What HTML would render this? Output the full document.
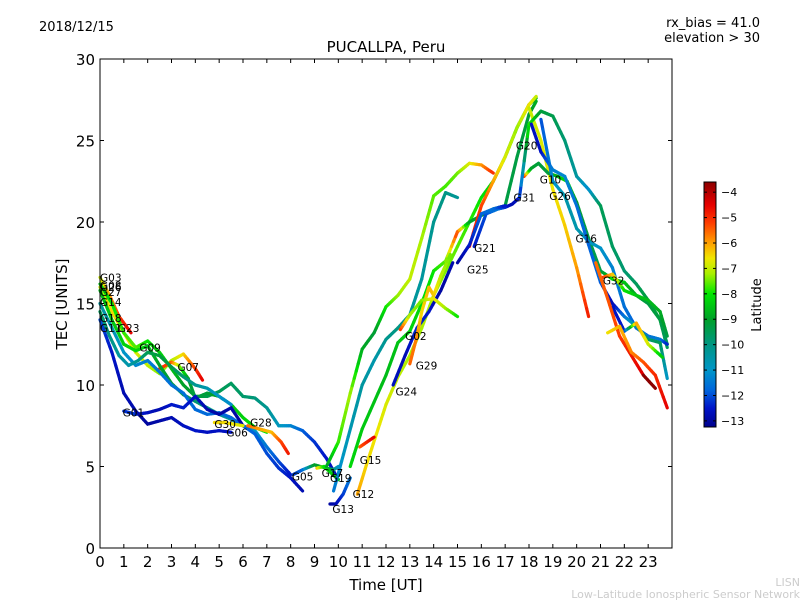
<!DOCTYPE html>
<html><head><meta charset="utf-8">
<style>
body{margin:0;background:#fff;}
svg{display:block;font-family:"DejaVu Sans","Liberation Sans",sans-serif;}
</style></head>
<body>
<svg id="chart" width="800" height="600" viewBox="0 0 800 600">
  <rect width="800" height="600" fill="#fff"/>
  <text x="39" y="31" font-size="13">2018/12/15</text>
  <text x="760" y="27" font-size="13" text-anchor="end">rx_bias = 41.0</text>
  <text x="760" y="42" font-size="13" text-anchor="end">elevation &gt; 30</text>
  <text x="386" y="52" font-size="15" text-anchor="middle">PUCALLPA, Peru</text>
  <g id="plot"></g>
  <g id="axes"></g>
  <g id="cbar"></g>
  <text x="386" y="590" font-size="15" text-anchor="middle">Time [UT]</text>
  <text transform="translate(67,304) rotate(-90)" font-size="15" text-anchor="middle">TEC [UNITS]</text>
  <text x="800" y="586" font-size="11" fill="#ccc" text-anchor="end">LISN</text>
  <text x="800" y="598" font-size="11" fill="#ccc" text-anchor="end">Low-Latitude Ionospheric Sensor Network</text>
</svg>
<script>
const xTicks=[0,1,2,3,4,5,6,7,8,9,10,11,12,13,14,15,16,17,18,19,20,21,22,23];
const yTicks=[0,5,10,15,20,25,30];
const cbTicks=[-4,-5,-6,-7,-8,-9,-10,-11,-12,-13];
// tracks: time (UT h), TEC, latitude
const trkNames=["G03","G23","G09","G07","G14","G18","G11","G01","G06","G30","G28","G05","G17","G13","G12","G15","R1","R2","G21","G20","G20d","G10","G31","G26","G16","G32","G25","G24","G29","G02","Gx1","Gx2","Gx3"];
const trkT=[
 [0,0.4,0.8,1.3],
 [0,0.5,1,1.5,2,2.5,3,3.5,4,4.3],
 [0,0.5,1,1.5,2,2.5,3,3.5,4,4.5,5,5.5,6,6.5,7,7.5,8,8.5,9,9.5,10],
 [2.5,3,3.3,3.7,4,4.5,5,5.5,6,6.5,7],
 [0,0.5,1,1.5,2,2.5,3,3.5,4,4.5,5,5.5,6,6.5,7,7.5,8],
 [0,0.5,1,1.5,2,2.5,3,3.5,4,4.5,5,5.5,6,6.5,7,7.5,8,8.5],
 [0,0.4,0.8,1.2,1.6,2,2.5,3,3.5,4,4.5,5,5.5],
 [1,1.5,2,2.5,3,3.5,4,4.5,5,5.5,6],
 [0,0.5,1,1.5,2,2.5,3,3.5,4,4.5,5,5.5],
 [4.8,5.2,5.6,6],
 [6.2,6.7,7.2,7.6,7.9],
 [8.1,8.5,9,9.5,9.8,10],
 [9.1,9.4,9.7,10],
 [9.65,9.9,10.2,10.5],
 [10.8,11.2,11.6,12,12.5,13,13.5,14,14.5,15,15.5,16,16.5,17,17.5,18,18.3],
 [10.9,11.2,11.5],
 [9.5,10,10.5,11,11.5,12,12.5,13,13.5,14,14.5,15,15.5,16,16.5],
 [9.8,10.3,11,11.5,12,12.5,13,13.5,14,14.5,15],
 [10.5,11,12,12.5,13,13.5,14,14.5,15,15.5,16,16.5,17,17.5,18,18.3],
 [15.5,16,16.5,17,17.5,18,18.3],
 [18,18.5,19,19.5,20,20.5],
 [17.8,18.1,18.4,18.8,19.2,19.6,20,20.5,21,21.5,22,22.5,23,23.5,23.8],
 [15.7,16.2,16.7,17,17.3,17.6,18,18.5,19,19.5,20,20.5,21,21.5,22,22.5,23,23.5,23.8],
 [18.5,19,19.5,20,20.5,21,21.5,22,22.5,23,23.5,23.8],
 [18.1,18.5,19,19.5,20,20.5,21,21.5,22,22.5,23,23.5,23.8],
 [21.1,21.5,22,22.5,23,23.5,23.8],
 [15,15.5,16,16.5,17],
 [12.3,12.8,13.3,13.8,14.3,14.8],
 [13,13.3,13.5,13.8,14,14.3,14.7],
 [12.6,13,13.5,14,14.5,15],
 [21.5,22,22.5,23,23.6],
 [20.8,21.3,21.8,22.3,22.8,23.3],
 [21.3,21.8,22.3,22.8,23.3,23.8]
];
const trkV=[
 [16.6,15.5,14.2,13.2],
 [16,14.5,13.2,12,11.2,10.7,11.5,11.9,11,10.3],
 [16.2,15,13.2,12.3,12.7,12,11,10,9.3,9.3,9.6,10.1,9.3,9.2,8.6,7.5,7.5,7.2,6.5,5.5,4.2],
 [11,11.4,11.2,10.4,9.2,9.5,9.3,8.8,8,7.4,7.1],
 [15.8,14,12.5,12.1,12.4,11.2,10.1,9.4,9,8.6,8.2,7.9,7.5,7.2,6.2,5.3,4.5],
 [15,13.5,12,11.2,11.5,10.8,10,9.5,8.5,8.2,8.3,8,7.5,7,5.8,4.9,4.3,3.5],
 [14.5,13,11.8,11.2,11.5,12,11.8,11.1,10.5,10,9.8,9.3,8.8],
 [8.4,8.2,8.3,8.5,8.8,8.6,9.3,8.5,8.2,8.6,7.5],
 [14,12,9.5,8.4,7.6,7.8,8.0,7.5,7.2,7.1,7.2,7.1],
 [7.7,7.7,7.6,7.5],
 [7.5,7.3,7.1,6.5,5.8],
 [4.5,4.8,5.1,4.9,4.8,5.0],
 [4.9,5.0,4.6,4.2],
 [2.7,2.7,3.3,4.3],
 [3.3,5.2,7,8.8,10.5,11.8,13.5,15.5,17,18.5,20,21.5,22.5,24,25.8,27.2,27.6],
 [6.2,6.5,6.8],
 [5,6.5,9.5,12.2,13.2,14.8,15.5,16.5,19,21.6,22.2,23,23.6,23.5,23],
 [3.5,6.2,10,11.5,12.8,13.5,14.3,16.5,20,21.8,21.5],
 [5,7.3,10.6,12.6,13.3,15,17,17.6,19.4,20,20.4,20.8,21,24,26.6,27.4],
 [18.5,21,22.5,24,25.8,27.2,27.7],
 [27,25,22,19.8,17.2,14.2],
 [22.8,23.3,23.6,23,22.8,22.5,21.2,19,17,16.5,16.3,15.5,15,14,12.3],
 [18.5,20.5,20.8,20.9,21.1,21.5,26,26.8,26.5,25,22.8,22,21,18.5,17,16.2,15.2,14,12.5],
 [26.3,22.5,21.6,19.6,18.8,18.4,17.2,14.8,13.5,13,12.8,12.5],
 [26,24.3,23.2,22.8,21,18.6,16.3,15,14.2,13.6,12.8,12.6,10.4],
 [16.6,16.8,15.8,15.5,15.2,14.5,13],
 [17.5,18.6,20.5,20.8,21],
 [10,11.8,13.5,14.5,15.8,17.5],
 [11.3,13,14.5,16,15.5,16.7,18],
 [13.4,14.3,15.2,15.3,14.7,14.2],
 [14.8,13.3,13.8,12.5,11.7],
 [17.5,15.3,13,11.8,10.6,9.8],
 [13.2,13.6,12,11.4,10.6,8.6]
];
const trkL=[
 [-7,-6,-5.2,-4.5],
 [-7,-6.5,-6.3,-6.8,-7,-7.4,-7.2,-6.5,-5.2,-4.5],
 [-8.5,-8,-7.8,-7.6,-8,-8.3,-8.5,-9,-9.2,-9.4,-9.5,-9.6,-9.7,-9.9,-10.2,-10.8,-11.2,-11.8,-12.2,-12.5,-12.8],
 [-5,-5.3,-7,-9,-9.3,-9.2,-8.8,-8.5,-8.3,-8.1,-8],
 [-8.6,-8.4,-8.3,-8.2,-8.5,-9,-9.3,-9.5,-9.8,-10,-10.2,-10.4,-10.7,-11,-11.5,-12,-12.5],
 [-10.4,-10.7,-11,-11.2,-11.4,-11.5,-11.6,-11.6,-11.7,-11.7,-11.7,-11.7,-11.8,-11.8,-12,-12.2,-12.5,-12.8],
 [-9.5,-10,-10.4,-10.6,-10.2,-9.5,-9.2,-9.4,-9.8,-10.2,-10.6,-11,-11.2],
 [-12.3,-12.2,-12.6,-12.8,-12.5,-12.4,-12.6,-12.8,-12.9,-12.9,-13],
 [-12,-12.5,-12.8,-12.8,-13,-12.9,-12.8,-12.6,-12.5,-12.6,-12.6,-12.6],
 [-6.5,-6.5,-6.6,-6.8],
 [-5.5,-6,-6.3,-5.3,-4.8],
 [-12.2,-11.8,-9,-9.2,-9.5,-11],
 [-6.2,-8,-8.3,-8.3],
 [-13,-12.8,-12.2,-11.5],
 [-6,-6.5,-6.6,-6.8,-7,-7.2,-7.2,-7.2,-7.4,-7.6,-7.8,-8,-8.3,-8.6,-8.8,-9,-8.5],
 [-5.5,-5,-4.5],
 [-9,-7.8,-7.2,-8.8,-9.2,-8,-7.3,-7,-7.2,-7.6,-7.7,-7.5,-6.8,-6,-5],
 [-11.5,-10.8,-10.4,-10.6,-10.2,-10,-10.3,-10.4,-10.2,-10,-10.3],
 [-8.2,-8.4,-8.6,-8.5,-8.3,-8.2,-8,-7.6,-5.2,-9,-9.2,-9.2,-9.3,-9.3,-9.2,-8.8],
 [-4.5,-5.2,-6,-6.8,-7.3,-6.5,-7],
 [-7,-6.8,-6.6,-6.4,-6,-4.8],
 [-4.8,-9,-9.2,-9.3,-8.6,-8.2,-9,-9.4,-9.4,-8.2,-8.4,-9,-9.3,-9.2,-9.6],
 [-12.5,-12,-11.5,-12.2,-12.8,-12.5,-7.8,-9.2,-9.4,-9.8,-10.4,-11.2,-9.5,-9.6,-9.8,-9.6,-9.2,-9.3,-9.6],
 [-12,-11.2,-10.6,-10.6,-10.8,-11,-11.3,-11.6,-11.8,-11.6,-11.4,-12.4],
 [-12.6,-12.6,-11.4,-11.2,-11.6,-11.8,-11.8,-12.8,-11.6,-10.4,-9.8,-9.5,-11],
 [-5,-6.2,-8,-8.4,-8.6,-8.8,-9.3],
 [-13,-12.5,-11.8,-11.6,-12.5],
 [-12.6,-12.8,-12.3,-12.5,-13,-12.8],
 [-5.5,-5.8,-6.5,-6.2,-6.3,-7,-7.5],
 [-5,-7.2,-7.5,-6.6,-7.2,-8],
 [-12.6,-12.4,-6,-6.8,-8.5],
 [-5.6,-5.4,-5.2,-4.8,-4.4],
 [-6.6,-6.2,-5.8,-5.4,-5,-4.5]
];
const lblNames=["G03","G08","G26","G27","G14","G18","G11","G23","G09","G07","G01","G30","G06","G28","G05","G17","G19","G13","G12","G15","G24","G29","G02","G25","G21","G20","G31","G10","G26","G16","G32"];
const lblT=[0,0,0,0,0,0,0,0.75,1.65,3.25,0.95,4.8,5.3,6.3,8.05,9.3,9.65,9.75,10.6,10.9,12.4,13.25,12.8,15.4,15.7,17.45,17.35,18.45,18.85,19.95,21.1];
const lblV=[16.6,16.1,16.0,15.7,15.1,14.1,13.5,13.5,12.3,11.1,8.3,7.6,7.1,7.7,4.4,4.6,4.3,2.4,3.3,5.4,9.6,11.2,13.0,17.1,18.4,24.7,21.5,22.6,21.6,19.0,16.4];

const X0=100,X1=672,Y0=548,Y1=59;
const xs=t=>X0+(t/24)*(X1-X0);
const ys=v=>Y0-(v/30)*(Y0-Y1);
const LMIN=-13.24,LMAX=-3.6;
const stops=[[-13.24,[0,0,140]],[-12.5,[0,20,200]],[-11.8,[0,100,220]],[-11,[0,150,200]],[-10,[0,150,130]],[-9,[0,160,40]],[-8,[0,230,0]],[-7.2,[170,240,0]],[-6.6,[240,230,0]],[-6,[255,160,0]],[-5.2,[255,60,0]],[-4.5,[230,0,0]],[-3.6,[140,0,0]]];
function cmap(l){
  l=Math.max(LMIN,Math.min(LMAX,l));
  for(let i=0;i<stops.length-1;i++){const a=stops[i],b=stops[i+1];
    if(l<=b[0]){const f=(l-a[0])/(b[0]-a[0]);const c=a[1].map((v,k)=>Math.round(v+(b[1][k]-v)*f));return `rgb(${c})`;}}
  return 'rgb(140,0,0)';
}
const NS="http://www.w3.org/2000/svg";
function mk(tag,attrs,parent){const e=document.createElementNS(NS,tag);for(const k in attrs)e.setAttribute(k,attrs[k]);parent.appendChild(e);return e;}
const plot=document.getElementById('plot');
trkT.forEach((ts,i)=>{
  const g=mk('g',{},plot);
  
  
  const vs=trkV[i],ls=trkL[i];
  for(let j=0;j<ts.length-1;j++){
    const n=6;
    for(let k=0;k<n;k++){
      const f0=k/n,f1=(k+1)/n;
      const t0=ts[j]+(ts[j+1]-ts[j])*f0,t1=ts[j]+(ts[j+1]-ts[j])*f1;
      const v0=vs[j]+(vs[j+1]-vs[j])*f0,v1=vs[j]+(vs[j+1]-vs[j])*f1;
      const lm=ls[j]+(ls[j+1]-ls[j])*(f0+f1)/2;
      const s=mk('line',{x1:xs(t0),y1:ys(v0),x2:xs(t1),y2:ys(v1),stroke:cmap(lm),'stroke-width':3.2,'stroke-linecap':'round'},g);
      
      
    }
  }
});
lblNames.forEach((n,i)=>{
  const t=mk('text',{x:xs(lblT[i]),y:ys(lblV[i])+4,'font-size':10.5},plot);
  
  
  t.textContent=n;
});
const axes=document.getElementById('axes');
const fr=mk('rect',{x:X0,y:Y1,width:X1-X0,height:Y0-Y1,fill:'none',stroke:'#000','stroke-width':1},axes);


xTicks.forEach(t=>{
  const x=xs(t);
  mk('line',{x1:x,y1:Y0,x2:x,y2:Y0-4,stroke:'#000'},axes);
  mk('line',{x1:x,y1:Y1,x2:x,y2:Y1+4,stroke:'#000'},axes);
  const tx=mk('text',{x:x,y:Y0+19,'font-size':15,'text-anchor':'middle'},axes);
  
  
  tx.textContent=t;
});
yTicks.forEach(v=>{
  const y=ys(v);
  mk('line',{x1:X0,y1:y,x2:X0+4,y2:y,stroke:'#000'},axes);
  mk('line',{x1:X1,y1:y,x2:X1-4,y2:y,stroke:'#000'},axes);
  const tx=mk('text',{x:X0-5,y:y+6,'font-size':15,'text-anchor':'end'},axes);
  
  
  tx.textContent=v;
});
// colorbar
const cb=document.getElementById('cbar');
const CX=704,CW=12,CT=182,CB=427;
const cy=l=>CB-(l-LMIN)/(LMAX-LMIN)*(CB-CT);
for(let y=CT;y<CB;y++){
  const l=LMIN+(CB-y-0.5)/(CB-CT)*(LMAX-LMIN);
  mk('rect',{x:CX,y:y,width:CW,height:1.2,fill:cmap(l)},cb);
}
const cbr=mk('rect',{x:CX,y:CT,width:CW,height:CB-CT,fill:'none',stroke:'#000','stroke-width':1},cb);


cbTicks.forEach(l=>{
  const y=cy(l);
  mk('line',{x1:CX,y1:y,x2:CX+3,y2:y,stroke:'#000'},cb);
  mk('line',{x1:CX+CW,y1:y,x2:CX+CW-3,y2:y,stroke:'#000'},cb);
  const tx=mk('text',{x:CX+CW+5,y:y+4,'font-size':11},cb);
  
  
  tx.textContent=String(l).replace('-','\u2212');
});
const ct=mk('text',{transform:'translate(761,305) rotate(-90)','font-size':13,'text-anchor':'middle'},cb);


ct.textContent='Latitude';
</script>
</body></html>
